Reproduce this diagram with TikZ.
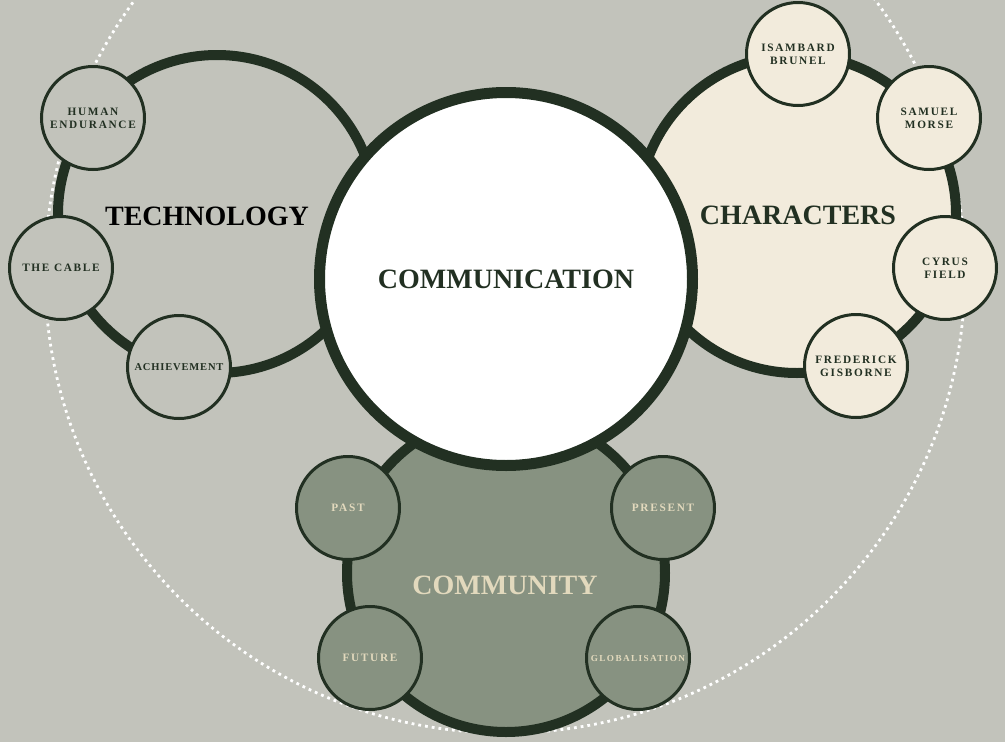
\documentclass[tikz,border=0pt]{standalone}
\usepackage{fontspec}
\setmainfont{Liberation Serif}
\newfontfamily\tagfont[LetterSpace=15]{Liberation Serif}
\usepackage{tikz}
\definecolor{paper}{HTML}{C2C3BB}
\definecolor{ink}{HTML}{223022}
\definecolor{cream}{HTML}{F2EBDC}
\definecolor{moss}{HTML}{879281}
\definecolor{straw}{HTML}{E2D9BD}

\begin{document}
\begin{tikzpicture}[x=1pt,y=-1pt,
  hub/.style={circle,draw=ink,line width=10pt,minimum size=318pt,inner sep=0pt},
  core/.style={circle,draw=ink,line width=11pt,fill=white,minimum size=373pt,inner sep=0pt},
  sat/.style={circle,draw=ink,line width=3pt,minimum size=103pt,inner sep=0pt,align=center,
    font=\tagfont\bfseries\fontsize{11.3}{12.8}\selectfont},
  title/.style={font=\bfseries\fontsize{28}{30}\selectfont}]
 \useasboundingbox[fill=paper] (0,0) rectangle (1005,742);
 % outer dotted orbit
 \draw[white,line width=2.8pt,dash pattern=on 2.8pt off 4pt] (505,273) circle (460pt);
 % the three rings
 \node[hub,fill=paper] (tech) at (217,214) {};
 \node[hub,fill=cream] (chars) at (797,214) {};
 \node[hub,fill=moss] (comm) at (506,573) {};
 \node[core] (hub) at (506,279) {};
 \node[title,text=ink] (hublbl) at (hub) {COMMUNICATION};
 \node[title,text=black] (techlbl) at (207,216) {TECHNOLOGY};
 \node[title,text=ink] (charslbl) at (798,215) {CHARACTERS};
 \node[title,text=straw] (commlbl) at (505,585) {COMMUNITY};
 % satellites
 \foreach \n/\x/\y/\t in {endur/93/118/{HUMAN\\ENDURANCE}, cable/61/268/{THE CABLE}}
   \node[sat,fill=paper,text=ink] (\n) at (\x,\y) {\t};
 \node[sat,fill=paper,text=ink,font=\tagfont\bfseries\addfontfeatures{LetterSpace=8}\fontsize{10.5}{12}\selectfont] (achiev) at (179,367) {ACHIEVEMENT};
 \foreach \n/\x/\y/\t in {brunel/798/54/{ISAMBARD\\BRUNEL}, morse/929/118/{SAMUEL\\MORSE},
     field/945/268/{CYRUS\\FIELD}, gisb/856/366/{FREDERICK\\GISBORNE}}
   \node[sat,fill=cream,text=ink] (\n) at (\x,\y) {\t};
 \foreach \n/\x/\y/\t in {past/348/508/{PAST}, present/663/508/{PRESENT}, future/370/658/{FUTURE}}
   \node[sat,fill=moss,text=straw] (\n) at (\x,\y) {\t};
 \node[sat,fill=moss,text=straw,font=\tagfont\bfseries\fontsize{9.2}{10}\selectfont] (glob) at (638,658) {GLOBALISATION};
\end{tikzpicture}
\end{document}
